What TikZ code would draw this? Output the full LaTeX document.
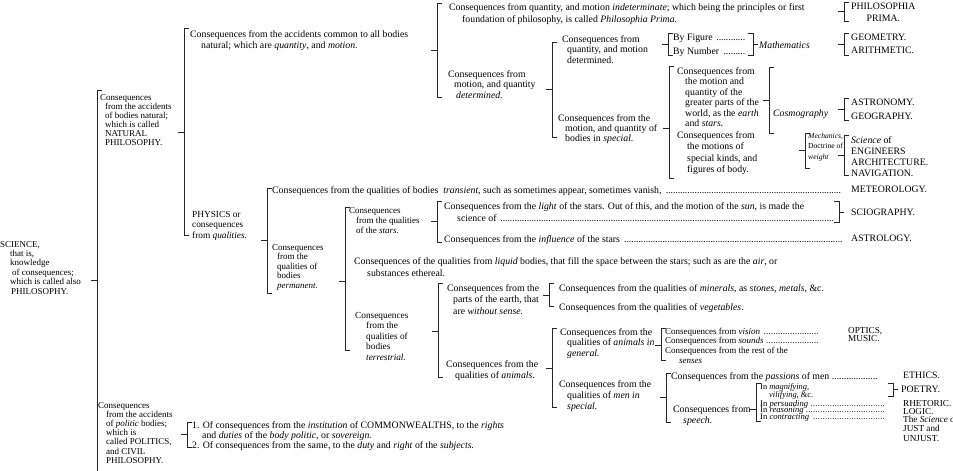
\documentclass[tikz,border=0pt]{standalone}
\usepackage{fontspec}
\setmainfont{Liberation Serif}
\usepackage{tikz}
\usetikzlibrary{calc,positioning}

\newcommand{\sk}[1][8pt]{\hspace*{#1}}
\newcommand{\lead}{\leaders\hbox to 2.4pt{\hss.\hss}\hfill}
% bracket opening to the right: x, top, bottom, nub
\newcommand{\brk}[4]{\draw[brk] (#1+5,#2) -- (#1,#2) -- (#1,#3) -- (#1+5,#3); \draw[brk] (#1-6,#4) -- (#1,#4);}
% bracket opening to the left
\newcommand{\rbrk}[4]{\draw[brk] (#1-5,#2) -- (#1,#2) -- (#1,#3) -- (#1-5,#3); \draw[brk] (#1,#4) -- (#1+5,#4);}

\tikzset{
  txt/.style={anchor=north west, inner sep=0pt, align=left, font=\fontsize{9.8}{11.5}\selectfont},
  sml/.style={txt, font=\fontsize{9}{9.2}\selectfont},
  brk/.style={line width=0.9pt, black!85},
}

\begin{document}
\begin{tikzpicture}[x=1pt,y=-1pt]
\useasboundingbox (0,0) rectangle (953,471);

% science
\node[sml, font=\fontsize{9}{9.4}\selectfont] (science) at (0,241) {SCIENCE,\\\sk[10pt]that is,\\\sk[10pt]knowledge\\\sk[12pt]of consequences;\\\sk[10pt]which is called also\\\sk[11pt]PHILOSOPHY.};
\draw[brk] (102,90) -- (97,90) -- (97,472); \draw[brk] (91,280) -- (97,280);

% natural and politic bodies
\node[sml, font=\fontsize{9}{9}\selectfont] (natphil) at (100,94) {Consequences\\\sk[5pt]from the accidents\\\sk[5pt]of bodies natural;\\\sk[5pt]which is called\\\sk[5pt]NATURAL\\\sk[5pt]PHILOSOPHY.};
\brk{184}{28}{235}{132}
\node[sml] (politic) at (98,402) {Consequences\\\sk from the accidents\\\sk of \textit{politic} bodies;\\\sk which is\\\sk called POLITICS,\\\sk and CIVIL\\\sk PHILOSOPHY.};
\brk{187}{422}{447}{434}
\node[txt, font=\fontsize{9.8}{10}\selectfont] (cmnw) at (192,421) {1. Of consequences from the \textit{institution} of COMMONWEALTHS, to the \textit{rights}\\\sk[10pt]and \textit{duties} of the \textit{body politic}, or \textit{sovereign.}\\2. Of consequences from the same, to the \textit{duty} and \textit{right} of the \textit{subjects.}};

% quantity and motion
\node[txt, font=\fontsize{9.8}{11}\selectfont] (common) at (190,30) {Consequences from the accidents common to all bodies\\\sk[11pt]natural; which are \textit{quantity}, and \textit{motion}.};
\brk{437}{3}{97}{50}
\node[txt, font=\fontsize{9.8}{12}\selectfont] (indet) at (449,3) {Consequences from quantity, and motion \textit{indeterminate}; which being the principles or first\\\sk[13pt]foundation of philosophy, is called \textit{Philosophia Prima.}};
\brk{844}{2}{21}{11}
\node[txt, align=center] (prima) at (851,3) {PHILOSOPHIA\\PRIMA.};
\node[txt, font=\fontsize{9.8}{10.7}\selectfont] (determ) at (448,70) {Consequences from\\\sk[6pt]motion, and quantity\\\sk[8pt]\textit{determined.}};
\brk{552}{42}{137}{89}
\node[txt, font=\fontsize{9.8}{10.7}\selectfont] (qmdet) at (562,35) {Consequences from\\\sk[5pt]quantity, and motion\\\sk[5pt]determined.};
\brk{668}{33}{55}{44}
\node[txt] (figure) at (673,34) {\makebox[72pt][l]{By Figure \lead}};
\node[txt] (number) at (673,47) {\makebox[72pt][l]{By Number \lead}};
\rbrk{753}{33}{55}{44}
\node[txt, anchor=west] (mathem) at (759,45) {\textit{Mathematics}};
\brk{844}{33}{55}{44}
\node[txt] (geom) at (851,34) {GEOMETRY.};
\node[txt] (arith) at (851,47) {ARITHMETIC.};

% bodies in special
\node[txt, font=\fontsize{9.8}{10}\selectfont] (special) at (558,114) {Consequences from the\\\sk[7pt]motion, and quantity of\\\sk[7pt]bodies in \textit{special.}};
\brk{669}{66}{178}{128}
\node[txt, font=\fontsize{9.8}{10.5}\selectfont] (greater) at (677,67) {Consequences from\\\sk[8pt]the motion and\\\sk[8pt]quantity of the\\\sk[8pt]greater parts of the\\\sk[8pt]world, as the \textit{earth}\\\sk[8pt]and \textit{stars.}};
\brk{769}{67}{133}{100}
\node[txt] (cosmo) at (773,109) {\textit{Cosmography}};
\brk{844}{98}{120}{109}
\node[txt] (astro) at (851,99) {ASTRONOMY.};
\node[txt] (geog) at (851,113) {GEOGRAPHY.};
\node[txt, font=\fontsize{9.8}{11.5}\selectfont] (motions) at (677,131) {Consequences from\\\sk[10pt]the motions of\\\sk[10pt]special kinds, and\\\sk[10pt]figures of body.};
\brk{805}{133}{168}{150}
\node[sml, font=\fontsize{7.6}{10.5}\selectfont] (mech) at (808,133) {\textit{Mechanics,}\\Doctrine of\\\textit{weight}};
\brk{844}{135}{175}{155}
\node[txt, font=\fontsize{9.8}{11}\selectfont] (engin) at (851,136) {\textit{Science} of\\ENGINEERS\\ARCHITECTURE.\\NAVIGATION.};

% physics
\node[txt, font=\fontsize{9.3}{10.5}\selectfont] (physics) at (192,211) {PHYSICS or\\consequences\\from \textit{qualities.}};
\brk{267}{188}{293}{240}
\node[txt] (transient) at (272,186) {\makebox[571pt][l]{Consequences from the qualities of bodies \ \textit{transient}, such as sometimes appear, sometimes vanish, \lead}};
\node[txt] (meteo) at (851,186) {METEOROLOGY.};
\node[sml, font=\fontsize{9}{9.5}\selectfont] (perm) at (272,244) {Consequences\\\sk[5pt]from the\\\sk[5pt]qualities of\\\sk[5pt]bodies\\\sk[5pt]\textit{permanent.}};
\brk{345}{207}{350}{281}

% stars
\node[sml, font=\fontsize{9}{10}\selectfont] (stars) at (349,207) {Consequences\\\sk[7pt]from the qualities\\\sk[7pt]of the \textit{stars.}};
\brk{437}{201}{242}{221}
\node[txt, font=\fontsize{9.8}{12}\selectfont] (light) at (444,202) {Consequences from the \textit{light} of the stars. Out of this, and the motion of the \textit{sun}, is made the\\\sk[13pt]\makebox[378pt][l]{science of \lead}};
\rbrk{839}{201}{222}{212}
\node[txt] (sciog) at (851,209) {SCIOGRAPHY.};
\node[txt] (influ) at (444,235) {\makebox[399pt][l]{Consequences from the \textit{influence} of the stars \lead}};
\node[txt] (astrol) at (851,235) {ASTROLOGY.};
\node[txt, font=\fontsize{9.8}{12}\selectfont] (liquid) at (354,257) {Consequences of the qualities from \textit{liquid} bodies, that fill the space between the stars; such as are the \textit{air}, or\\\sk[13pt]substances ethereal.};

% terrestrial
\node[txt, font=\fontsize{9.3}{10.5}\selectfont] (terr) at (355,312) {Consequences\\\sk[11pt]from the\\\sk[11pt]qualities of\\\sk[11pt]bodies\\\sk[11pt]\textit{terrestrial.}};
\brk{438}{283}{377}{331}
\node[txt, font=\fontsize{9.8}{11.5}\selectfont] (earth) at (447,284) {Consequences from the\\\sk[6pt]parts of the earth, that\\\sk[6pt]are \textit{without sense.}};
\brk{549}{283}{306}{295}
\node[txt] (miner) at (559,284) {Consequences from the qualities of \textit{minerals}, as \textit{stones}, \textit{metals}, \&c.};
\node[txt] (veget) at (559,303) {Consequences from the qualities of \textit{vegetables}.};
\node[txt, font=\fontsize{9.8}{11}\selectfont] (animals) at (446,360) {Consequences from the\\\sk[9pt]qualities of \textit{animals.}};
\brk{552}{328}{407}{368}
\node[txt, font=\fontsize{9.8}{10.5}\selectfont] (general) at (560,328) {Consequences from the\\\sk[7pt]qualities of \textit{animals in}\\\sk[7pt]\textit{general.}};
\brk{661}{328}{360}{345}
\node[sml, font=\fontsize{9}{7.6}\selectfont] (vision) at (665,328) {\makebox[155pt][l]{Consequences from \textit{vision} \lead}\\\makebox[155pt][l]{Consequences from \textit{sounds} \lead}\\Consequences from the rest of the\\[2.5pt]\sk[14pt]\textit{senses}};
\node[txt, anchor=west, font=\fontsize{9.2}{9}\selectfont] (optics) at (848,331) {OPTICS,};
\node[txt, anchor=west, font=\fontsize{9.2}{9}\selectfont] (music) at (848,338.6) {MUSIC.};

% men
\node[txt, font=\fontsize{9.8}{11}\selectfont] (men) at (559,380) {Consequences from the\\\sk[8pt]qualities of \textit{men in}\\\sk[8pt]\textit{special.}};
\brk{666}{373}{422}{397}
\node[txt] (passion) at (671,372) {\makebox[207pt][l]{Consequences from the \textit{passions} of men \lead}};
\node[txt] (ethics) at (903,372) {ETHICS.};
\node[txt, font=\fontsize{9.8}{11}\selectfont] (speech) at (673,405) {Consequences from\\\sk[10pt]\textit{speech.}};
\brk{756}{383}{421}{409}
\node[sml, font=\fontsize{8.4}{7.6}\selectfont] (magnif) at (760,383) {In \textit{magnifying,}\\\sk[9pt]\textit{vilifying}, \&c.};
\rbrk{893}{383}{396}{389.5}
\node[txt, anchor=west] (poetry) at (901,389.5) {POETRY.};
\node[sml, anchor=west, font=\fontsize{8.6}{8}\selectfont] (persu) at (760,404) {\makebox[125pt][l]{In \textit{persuading} \lead}};
\node[sml, anchor=west, font=\fontsize{8.6}{8}\selectfont] (reason) at (760,411) {\makebox[125pt][l]{In \textit{reasoning} \lead}};
\node[sml, anchor=west, font=\fontsize{8.6}{8}\selectfont] (contract) at (760,418) {\makebox[125pt][l]{In \textit{contracting} \lead}};
\node[txt, anchor=west, font=\fontsize{9.2}{9}\selectfont] (rhet) at (903,404) {RHETORIC.};
\node[txt, anchor=west, font=\fontsize{9.2}{9}\selectfont] (logic) at (903,411.5) {LOGIC.};
\node[txt, anchor=west, font=\fontsize{9.2}{9}\selectfont] (sci) at (903,419) {The \textit{Science} of};
\node[txt, anchor=west, font=\fontsize{9.2}{9}\selectfont] (just) at (903,428.5) {JUST and};
\node[txt, anchor=west, font=\fontsize{9.2}{9}\selectfont] (unjust) at (903,438.5) {UNJUST.};
\end{tikzpicture}
\end{document}
